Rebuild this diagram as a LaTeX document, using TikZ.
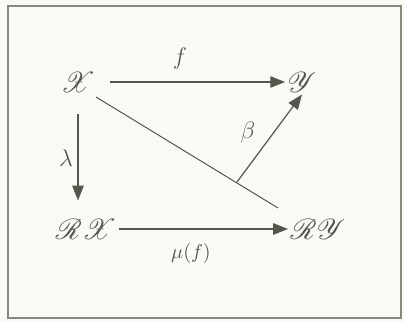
\documentclass[tikz,border=0pt]{standalone}
\usepackage{amsmath}
\usepackage{mathrsfs}
\usepackage{xcolor}
\usetikzlibrary{arrows.meta,positioning}
\definecolor{paper}{HTML}{F9FAF4}
\definecolor{ink}{HTML}{55554E}

\begin{document}
\begin{tikzpicture}[
  x=0.5pt, y=-0.5pt,
  font=\Large,
  obj/.style={inner sep=1pt, text=ink},
  lbl/.style={font=\large, text=ink},
  ar/.style={draw=ink, line width=0.6pt, -{Triangle[length=2.6mm, width=2mm]}},
  ln/.style={draw=ink, line width=0.5pt}]

\fill[paper] (0,0) rectangle (404,322);
\useasboundingbox (0,0) rectangle (404,322);
\draw[ink!70, line width=0.6pt] (8,6) rectangle (401,318);

\node[obj] (X) at (78,82) {$\mathscr{X}$};
\node[obj] (Y) at (302,82) {$\mathscr{Y}$};
\node[obj] (RX) at (86,229) {$\mathscr{R}\mathscr{X}$};
\node[obj] (RY) at (318,229) {$\mathscr{R}\mathscr{Y}$};

\coordinate (d1) at (96,97);
\coordinate (d2) at (278,208);
\coordinate (foot) at (237,182);

\draw[ar, shorten <=6pt] (X.east) -- (Y.west);
\draw[ar, shorten <=10pt, shorten >=8pt] (X.south) -- (RX.north -| X.south);
\draw[ar] (RX.east) -- (RY.west);
\draw[ln] (d1) -- (d2);
\draw[ar] (foot) -- (Y.south);

\node[lbl] (f) at (180,58) {$f$};
\node[lbl] (lam) at (66,158) {$\lambda$};
\node[lbl] (beta) at (248,132) {$\beta$};
\node[lbl, font=\normalsize] (mu) at (191,254) {$\mu(f)$};
\end{tikzpicture}
\end{document}
